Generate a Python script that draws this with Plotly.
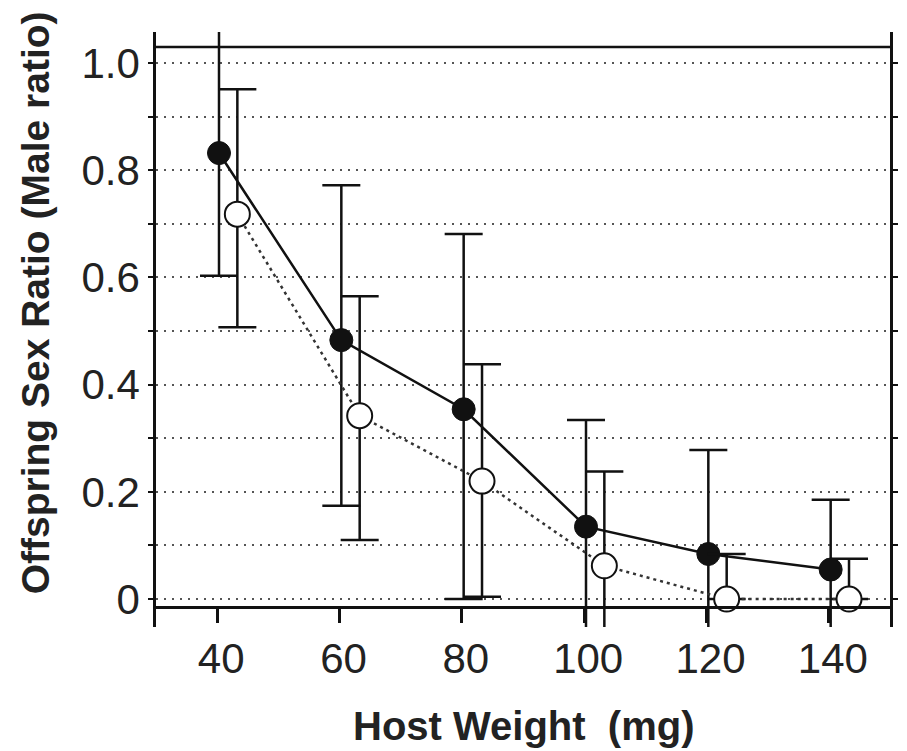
import plotly.graph_objects as go

# ---- data ----
host_weight = [40, 60, 80, 100, 120, 140]

filled_mean = [0.832, 0.483, 0.354, 0.135, 0.084, 0.055]
filled_upper = [1.083, 0.772, 0.681, 0.334, 0.278, 0.185]
filled_lower = [0.603, 0.174, 0.000, -0.064, -0.110, -0.075]

open_mean = [0.718, 0.342, 0.220, 0.062, 0.000, 0.000]
open_upper = [0.951, 0.565, 0.438, 0.238, 0.084, 0.075]
open_lower = [0.507, 0.110, 0.004, -0.114, 0.000, 0.000]

y_tick_vals = [0, 0.2, 0.4, 0.6, 0.8, 1.0]
y_tick_text = ["0", "0.2", "0.4", "0.6", "0.8", "1.0"]
x_tick_vals = [40, 60, 80, 100, 120, 140]
x_tick_text = ["40", "60", "80", "100", "120", "140"]

x_title = "Host Weight  (mg)"
y_title = "Offspring Sex Ratio (Male ratio)"

# ---- style ----
FONT = "Liberation Sans, Arial, Helvetica, sans-serif"
FILLED_SHIFT = 0.3
OPEN_SHIFT = 3.3

fx = [x + FILLED_SHIFT for x in host_weight]
ox = [x + OPEN_SHIFT for x in host_weight]

fig = go.Figure()

fig.add_trace(go.Scatter(
    x=fx, y=filled_mean, mode="lines+markers",
    line=dict(color="#111111", width=2.5),
    marker=dict(symbol="circle", size=23, color="#111111",
                line=dict(color="#111111", width=1)),
    error_y=dict(type="data", symmetric=False,
                 array=[u - m for u, m in zip(filled_upper, filled_mean)],
                 arrayminus=[m - l for m, l in zip(filled_mean, filled_lower)],
                 thickness=2.5, width=19, color="#111111"),
    showlegend=False,
))

fig.add_trace(go.Scatter(
    x=ox, y=open_mean, mode="lines+markers",
    line=dict(color="#333333", width=2.5, dash="3px,4px"),
    marker=dict(symbol="circle", size=25, color="white",
                line=dict(color="#111111", width=2)),
    error_y=dict(type="data", symmetric=False,
                 array=[u - m for u, m in zip(open_upper, open_mean)],
                 arrayminus=[m - l for m, l in zip(open_mean, open_lower)],
                 thickness=2.5, width=19, color="#111111"),
    showlegend=False,
))

grid_style = dict(gridcolor="#555555", gridwidth=2, griddash="2px,6px")

fig.update_layout(
    width=899, height=743,
    margin=dict(l=148, r=9, t=24, b=124),
    plot_bgcolor="white", paper_bgcolor="white",
    font=dict(family=FONT, color="#222222"),
    xaxis=dict(
        range=[30, 150], anchor="free", position=0.0336,
        showline=True, linecolor="#111111", linewidth=2.5,
        ticks="outside", ticklen=14, tickwidth=2.5, tickcolor="#111111",
        tickmode="array", tickvals=x_tick_vals, ticktext=x_tick_text,
        tickfont=dict(size=42, family=FONT, color="#222222"),
        ticklabelshift=4,
        showgrid=False, zeroline=False,
    ),
    yaxis=dict(
        range=[-0.0522, 1.0578],
        showline=True, linecolor="#111111", linewidth=2.5, mirror="ticks",
        ticks="outside", ticklen=5, tickwidth=2, tickcolor="#111111",
        tickmode="array", tickvals=y_tick_vals, ticktext=y_tick_text,
        tickfont=dict(size=42, family=FONT, color="#222222"),
        showgrid=True, **grid_style,
        minor=dict(tickmode="linear", tick0=0, dtick=0.1,
                   ticks="outside", ticklen=5, tickwidth=2, tickcolor="#111111",
                   showgrid=True, **grid_style),
        zeroline=False,
    ),
    shapes=[dict(type="line", xref="x domain", x0=0, x1=1, yref="y", y0=1.03, y1=1.03,
                 line=dict(color="#111111", width=2.5))],
    annotations=[
        dict(text=y_title, textangle=-90, xref="paper", yref="paper",
             x=-0.1644, y=0.5445, xanchor="center", yanchor="middle", showarrow=False,
             font=dict(size=39, family=FONT, color="#222222", weight="bold")),
        dict(text=x_title, xref="paper", yref="paper",
             x=0.5, y=-0.1664, xanchor="center", yanchor="middle", showarrow=False,
             font=dict(size=40, family=FONT, color="#222222", weight="bold")),
    ],
)

fig.write_html("out.html")
